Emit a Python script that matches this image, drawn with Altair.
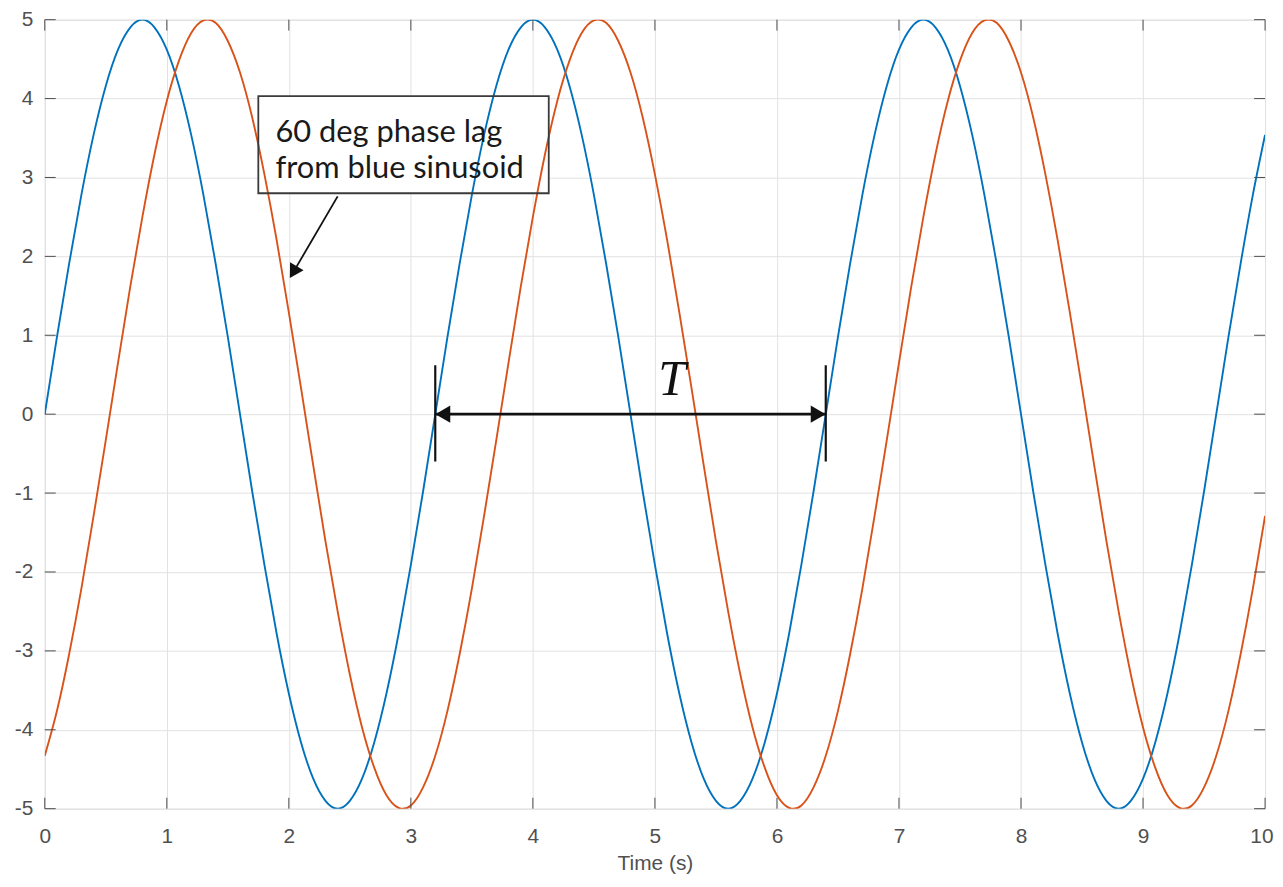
import altair as alt
import pandas as pd

# ---------------- data ----------------
time_s = [
    0.0, 0.1, 0.2, 0.3, 0.4, 0.5, 0.6, 0.7, 0.8, 0.9, 1.0, 1.1, 1.2, 1.3, 1.4, 1.5,
    1.6, 1.7, 1.8, 1.9, 2.0, 2.1, 2.2, 2.3, 2.4, 2.5, 2.6, 2.7, 2.8, 2.9, 3.0, 3.1,
    3.2, 3.3, 3.4, 3.5, 3.6, 3.7, 3.8, 3.9, 4.0, 4.1, 4.2, 4.3, 4.4, 4.5, 4.6, 4.7,
    4.8, 4.9, 5.0, 5.1, 5.2, 5.3, 5.4, 5.5, 5.6, 5.7, 5.8, 5.9, 6.0, 6.1, 6.2, 6.3,
    6.4, 6.5, 6.6, 6.7, 6.8, 6.9, 7.0, 7.1, 7.2, 7.3, 7.4, 7.5, 7.6, 7.7, 7.8, 7.9,
    8.0, 8.1, 8.2, 8.3, 8.4, 8.5, 8.6, 8.7, 8.8, 8.9, 9.0, 9.1, 9.2, 9.3, 9.4, 9.5,
    9.6, 9.7, 9.8, 9.9, 10.0,
]

blue_y = [
    0.00, 0.98, 1.91, 2.78, 3.54, 4.16, 4.62, 4.90, 5.00, 4.90, 4.62, 4.16, 3.54, 2.78, 1.91, 0.98,
    0.00, -0.98, -1.91, -2.78, -3.54, -4.16, -4.62, -4.90, -5.00, -4.90, -4.62, -4.16, -3.54, -2.78, -1.91, -0.98,
    0.00, 0.98, 1.91, 2.78, 3.54, 4.16, 4.62, 4.90, 5.00, 4.90, 4.62, 4.16, 3.54, 2.78, 1.91, 0.98,
    0.00, -0.98, -1.91, -2.78, -3.54, -4.16, -4.62, -4.90, -5.00, -4.90, -4.62, -4.16, -3.54, -2.78, -1.91, -0.98,
    0.00, 0.98, 1.91, 2.78, 3.54, 4.16, 4.62, 4.90, 5.00, 4.90, 4.62, 4.16, 3.54, 2.78, 1.91, 0.98,
    0.00, -0.98, -1.91, -2.78, -3.54, -4.16, -4.62, -4.90, -5.00, -4.90, -4.62, -4.16, -3.54, -2.78, -1.91, -0.98,
    0.00, 0.98, 1.91, 2.78, 3.54,
]

orange_y = [
    -4.33, -3.76, -3.04, -2.21, -1.29, -0.33, 0.65, 1.61, 2.50, 3.30, 3.97, 4.48, 4.83, 4.99, 4.96, 4.73,
    4.33, 3.76, 3.04, 2.21, 1.29, 0.33, -0.65, -1.61, -2.50, -3.30, -3.97, -4.48, -4.83, -4.99, -4.96, -4.73,
    -4.33, -3.76, -3.04, -2.21, -1.29, -0.33, 0.65, 1.61, 2.50, 3.30, 3.97, 4.48, 4.83, 4.99, 4.96, 4.73,
    4.33, 3.76, 3.04, 2.21, 1.29, 0.33, -0.65, -1.61, -2.50, -3.30, -3.97, -4.48, -4.83, -4.99, -4.96, -4.73,
    -4.33, -3.76, -3.04, -2.21, -1.29, -0.33, 0.65, 1.61, 2.50, 3.30, 3.97, 4.48, 4.83, 4.99, 4.96, 4.73,
    4.33, 3.76, 3.04, 2.21, 1.29, 0.33, -0.65, -1.61, -2.50, -3.30, -3.97, -4.48, -4.83, -4.99, -4.96, -4.73,
    -4.33, -3.76, -3.04, -2.21, -1.29,
]

series_names = ["blue", "orange"]
series_colors = ["#0072BD", "#D95319"]

x_ticks = [0, 1, 2, 3, 4, 5, 6, 7, 8, 9, 10]
y_ticks = [-5, -4, -3, -2, -1, 0, 1, 2, 3, 4, 5]

x_title = "Time (s)"

# annotation: text box with arrow
note_lines = ["60 deg phase lag", "from blue sinusoid"]
note_line_y = [3.45, 2.99]          # baselines
note_text_x = 1.89
note_box = {"x": 1.75, "x2": 4.13, "y": 2.80, "y2": 4.03}
note_arrow = {"x": 2.40, "y": 2.76, "x2": 2.037, "y2": 1.80}
note_head = {"x": 2.037, "y": 1.80, "angle": 210.6}

# annotation: period T
period_start, period_end = 3.2, 6.4
period_bar_lo, period_bar_hi = -0.6, 0.62
period_label = "T"
period_label_x, period_label_y = 5.14, 0.43
period_heads_x = [3.262, 6.338]
period_heads_angle = [270, 90]

# ---------------- layout ----------------
W, H = 1228, 794
TICK_LEN = 11
AXIS_GRAY = "#4d4d4d"
LABEL_GRAY = "#505050"
FONT = "Liberation Sans"

curves = pd.DataFrame({
    "t": time_s + time_s,
    "v": blue_y + orange_y,
    "series": [series_names[0]] * len(time_s) + [series_names[1]] * len(time_s),
})

xs = alt.Scale(domain=[x_ticks[0], x_ticks[-1]], nice=False, zero=False)
ys = alt.Scale(domain=[y_ticks[0], y_ticks[-1]], nice=False, zero=False)

last_x = x_ticks[-1]
x_axis = alt.Axis(
    values=x_ticks, grid=True, gridColor="#e2e2e2", gridWidth=1, ticks=False,
    domain=False, labelFontSize=21, labelColor=LABEL_GRAY, labelFont=FONT,
    labelPadding=17, labelFlush=False, labelExpr="datum.value + ''",
    labelAlign={"condition": {"test": f"datum.value == {last_x}", "value": "right"}, "value": "center"},
    labelOffset={"condition": {"test": f"datum.value == {last_x}", "value": 8}, "value": 0},
    title=x_title, titleFontSize=21, titleFontWeight="normal", titleColor=LABEL_GRAY,
    titleFont=FONT, titlePadding=6,
)
y_axis = alt.Axis(
    values=y_ticks, grid=True, gridColor="#e2e2e2", gridWidth=1, ticks=False,
    domain=False, labelFontSize=21, labelColor=LABEL_GRAY, labelFont=FONT,
    labelPadding=12, labelFlush=False, labelExpr="datum.value + ''", title=None,
)

base = alt.Chart(curves)

lines = base.mark_line(strokeWidth=1.9, interpolate="natural", clip=True).encode(
    x=alt.X("t:Q", scale=xs, axis=x_axis),
    y=alt.Y("v:Q", scale=ys, axis=y_axis),
    color=alt.Color("series:N", scale=alt.Scale(domain=series_names, range=series_colors), legend=None),
)

xt = pd.DataFrame({"t": x_ticks})
yt = pd.DataFrame({"v": y_ticks})
tick_style = dict(color=AXIS_GRAY, strokeWidth=1)
ticks_top = alt.Chart(xt).mark_rule(**tick_style).encode(
    x=alt.X("t:Q", scale=xs), y=alt.value(0), y2=alt.value(TICK_LEN))
ticks_bottom = alt.Chart(xt).mark_rule(**tick_style).encode(
    x=alt.X("t:Q", scale=xs), y=alt.value(H - TICK_LEN), y2=alt.value(H))
ticks_left = alt.Chart(yt).mark_rule(**tick_style).encode(
    y=alt.Y("v:Q", scale=ys), x=alt.value(0), x2=alt.value(TICK_LEN))
ticks_right = alt.Chart(yt).mark_rule(**tick_style).encode(
    y=alt.Y("v:Q", scale=ys), x=alt.value(W - TICK_LEN), x2=alt.value(W))

box_df = pd.DataFrame([note_box])
box_fill = alt.Chart(box_df).mark_rect(fill="white").encode(
    x=alt.X("x:Q", scale=xs), x2="x2:Q", y=alt.Y("y:Q", scale=ys), y2="y2:Q")
box_stroke = alt.Chart(box_df).mark_rect(fillOpacity=0, stroke="#3a3a3a", strokeWidth=1.8).encode(
    x=alt.X("x:Q", scale=xs), x2="x2:Q", y=alt.Y("y:Q", scale=ys), y2="y2:Q")

note_df = pd.DataFrame({"x": [note_text_x] * len(note_lines), "y": note_line_y, "txt": note_lines})
note_text = alt.Chart(note_df).mark_text(align="left", baseline="alphabetic", font="Lato",
                                         fontSize=31, color="#1a1a1a").encode(
    x=alt.X("x:Q", scale=xs), y=alt.Y("y:Q", scale=ys), text="txt:N")

arrow_df = pd.DataFrame([note_arrow])
arrow_line = alt.Chart(arrow_df).mark_rule(color="#111111", strokeWidth=1.8).encode(
    x=alt.X("x:Q", scale=xs), x2="x2:Q", y=alt.Y("y:Q", scale=ys), y2="y2:Q")
head_df = pd.DataFrame([note_head])
arrow_head = alt.Chart(head_df).mark_point(shape="triangle-up", filled=True, size=250,
                                           color="#111111", opacity=1).encode(
    x=alt.X("x:Q", scale=xs), y=alt.Y("y:Q", scale=ys), angle=alt.Angle("angle:Q", scale=None))

# period T annotation
per_line_df = pd.DataFrame({"x": [period_start], "x2": [period_end], "y": [0.0]})
per_line = alt.Chart(per_line_df).mark_rule(color="#111111", strokeWidth=2.8).encode(
    x=alt.X("x:Q", scale=xs), x2="x2:Q", y=alt.Y("y:Q", scale=ys))
per_bars_df = pd.DataFrame({"x": [period_start, period_end],
                            "y": [period_bar_lo] * 2, "y2": [period_bar_hi] * 2})
per_bars = alt.Chart(per_bars_df).mark_rule(color="#111111", strokeWidth=2.2).encode(
    x=alt.X("x:Q", scale=xs), y=alt.Y("y:Q", scale=ys), y2="y2:Q")
per_heads_df = pd.DataFrame({"x": period_heads_x, "y": [0.0, 0.0], "angle": period_heads_angle})
per_heads = alt.Chart(per_heads_df).mark_point(shape="triangle-up", filled=True, size=300,
                                               color="#111111", opacity=1).encode(
    x=alt.X("x:Q", scale=xs), y=alt.Y("y:Q", scale=ys), angle=alt.Angle("angle:Q", scale=None))
per_text_df = pd.DataFrame({"x": [period_label_x], "y": [period_label_y], "txt": [period_label]})
per_text = alt.Chart(per_text_df).mark_text(font="Liberation Serif", fontStyle="italic",
                                            fontSize=50, color="#111111", align="center",
                                            baseline="middle").encode(
    x=alt.X("x:Q", scale=xs), y=alt.Y("y:Q", scale=ys), text="txt:N")

chart = alt.layer(
    box_fill, lines, ticks_top, ticks_bottom, ticks_left, ticks_right,
    box_stroke, note_text, arrow_line, arrow_head,
    per_line, per_bars, per_heads, per_text,
).properties(
    width=W, height=H,
    autosize=alt.AutoSizeParams(type="none"),
    padding={"left": 37, "top": 9, "right": 10, "bottom": 64},
).configure_view(
    stroke=AXIS_GRAY, strokeWidth=1.6
).configure(background="white")

chart.save("out.html", embed_options={"renderer": "svg", "actions": False})
